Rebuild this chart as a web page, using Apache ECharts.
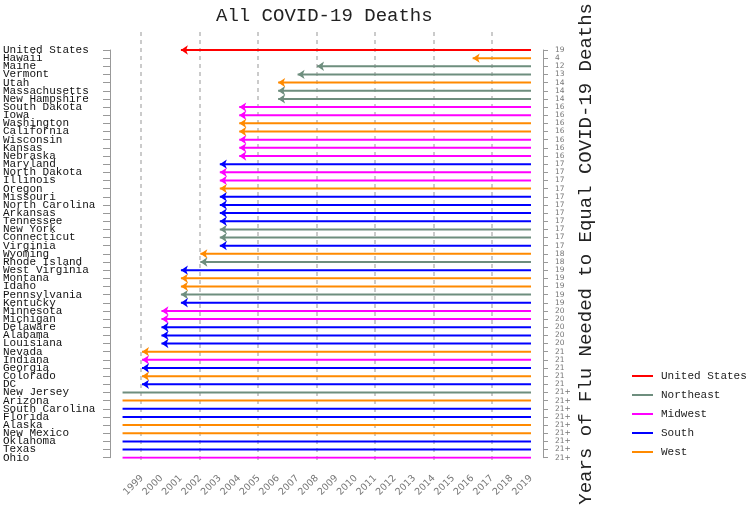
<!DOCTYPE html>
<html>
<head>
<meta charset="utf-8">
<script src="https://cdn.jsdelivr.net/npm/echarts@6/dist/echarts.min.js"></script>
<style>
  html, body { margin: 0; padding: 0; background: #fff; }
  #chart { width: 750px; height: 506px; }
</style>
</head>
<body>
<div id="chart"></div>
<script>
// states top to bottom
var states = ['United States', 'Hawaii', 'Maine', 'Vermont', 'Utah', 'Massachusetts', 'New Hampshire',
  'South Dakota', 'Iowa', 'Washington', 'California', 'Wisconsin', 'Kansas', 'Nebraska',
  'Maryland', 'North Dakota', 'Illinois', 'Oregon', 'Missouri', 'North Carolina', 'Arkansas',
  'Tennessee', 'New York', 'Connecticut', 'Virginia', 'Wyoming', 'Rhode Island', 'West Virginia',
  'Montana', 'Idaho', 'Pennsylvania', 'Kentucky', 'Minnesota', 'Michigan', 'Delaware', 'Alabama',
  'Louisiana', 'Nevada', 'Indiana', 'Georgia', 'Colorado', 'DC', 'New Jersey', 'Arizona',
  'South Carolina', 'Florida', 'Alaska', 'New Mexico', 'Oklahoma', 'Texas', 'Ohio'];

// years of flu needed, 21+ means more than the whole 1999-2019 range
var yearsNeeded = ['19', '4', '12', '13', '14', '14', '14',
  '16', '16', '16', '16', '16', '16', '16',
  '17', '17', '17', '17', '17', '17', '17', '17', '17', '17', '17',
  '18', '18',
  '19', '19', '19', '19', '19',
  '20', '20', '20', '20', '20',
  '21', '21', '21', '21', '21',
  '21+', '21+', '21+', '21+', '21+', '21+', '21+', '21+', '21+'];

var regionOf = ['United States', 'West', 'Northeast', 'Northeast', 'West', 'Northeast', 'Northeast',
  'Midwest', 'Midwest', 'West', 'West', 'Midwest', 'Midwest', 'Midwest',
  'South', 'Midwest', 'Midwest', 'West', 'South', 'South', 'South',
  'South', 'Northeast', 'Northeast', 'South', 'West', 'Northeast', 'South',
  'West', 'West', 'Northeast', 'South', 'Midwest', 'Midwest', 'South', 'South',
  'South', 'West', 'Midwest', 'South', 'West', 'South', 'Northeast', 'West',
  'South', 'South', 'West', 'West', 'South', 'South', 'Midwest'];

var regions = ['United States', 'Northeast', 'Midwest', 'South', 'West'];
var regionColors = ['#ff0000', '#6e8e7e', '#ff00ff', '#0000ff', '#ff8a00'];

var lastYear = 2019;
var FONT = 'Liberation Mono';

function segmentsFor(region) {
  var out = [];
  states.forEach(function (s, i) {
    if (regionOf[i] !== region) return;
    var n = yearsNeeded[i];
    var plus = n.indexOf('+') >= 0;
    var end = plus ? 1998 : lastYear - parseInt(n, 10) + 1;
    out.push({ value: [lastYear, s], symbol: 'none' });
    out.push({ value: [end, s], symbol: plus ? 'none' : 'arrow', symbolRotate: 90 });
    out.push('-');
  });
  return out;
}

var series = regions.map(function (r, k) {
  return {
    name: r,
    type: 'line',
    xAxisIndex: 0,
    yAxisIndex: 0,
    data: segmentsFor(r),
    connectNulls: false,
    clip: false,
    showSymbol: true,
    showAllSymbol: true,
    symbolSize: [7, 7],
    color: regionColors[k],
    lineStyle: { width: 2, color: regionColors[k] },
    itemStyle: { color: regionColors[k] },
    emphasis: { disabled: true },
    animation: false
  };
});

var chart = echarts.init(document.getElementById('chart'));
chart.setOption({
  backgroundColor: '#fff',
  animation: false,
  title: {
    text: 'All COVID-19 Deaths',
    left: 216, top: 6, padding: 0,
    textStyle: { fontFamily: FONT, fontSize: 19, fontWeight: 'normal', color: '#222' }
  },
  legend: {
    data: regions,
    orient: 'vertical',
    left: 627, top: 364,
    icon: 'rect',
    itemWidth: 21, itemHeight: 2,
    itemGap: 5,
    textStyle: { fontFamily: FONT, fontSize: 11, color: '#222', lineHeight: 14, padding: [0, 0, 0, 3] }
  },
  grid: [
    { left: 141, right: 219, top: 44.3, bottom: 48.3 },
    { left: 141, right: 219, top: 32, bottom: 43 }
  ],
  xAxis: [{
    gridIndex: 0,
    type: 'value', min: 1999, max: 2019, interval: 1,
    offset: 13,
    axisLine: { lineStyle: { color: '#999', width: 1 } },
    axisTick: { inside: true, length: 4, lineStyle: { color: '#999' } },
    axisLabel: {
      rotate: 45, fontFamily: 'DejaVu Sans', fontSize: 9.5, color: '#777', margin: 6,
      formatter: function (v) { return String(v); }
    },
    splitLine: { show: false }
  }, {
    gridIndex: 1,
    type: 'value', min: 1999, max: 2019, interval: 3,
    axisLine: { show: false }, axisTick: { show: false }, axisLabel: { show: false },
    splitLine: { show: true, showMaxLine: false, lineStyle: { color: '#bbb', width: 1.5, type: [4, 4] } }
  }],
  yAxis: [{
    gridIndex: 0,
    type: 'category', data: states, inverse: true, boundaryGap: false,
    position: 'left', offset: 32,
    axisLine: { lineStyle: { color: '#999' } },
    axisTick: { length: 7, alignWithLabel: true, lineStyle: { color: '#999' } },
    axisLabel: { interval: 0, align: 'left', margin: 107, fontFamily: FONT, fontSize: 11, color: '#111' },
    splitLine: { show: false }
  }, {
    gridIndex: 0,
    type: 'category', data: yearsNeeded, inverse: true, boundaryGap: false,
    position: 'right', offset: 12,
    name: 'Years of Flu Needed to Equal COVID-19 Deaths',
    nameLocation: 'middle', nameRotate: 90, nameGap: 33, nameMoveOverlap: false,
    nameTextStyle: { fontFamily: FONT, fontSize: 19, color: '#222' },
    axisLine: { lineStyle: { color: '#999' } },
    axisTick: { length: 5, lineStyle: { color: '#999' } },
    axisLabel: { interval: 0, margin: 12, align: 'left', fontFamily: 'DejaVu Sans', fontSize: 7.5, color: '#777' },
    splitLine: { show: false }
  }, {
    gridIndex: 1, type: 'value', show: false
  }],
  series: series
});
</script>
</body>
</html>
